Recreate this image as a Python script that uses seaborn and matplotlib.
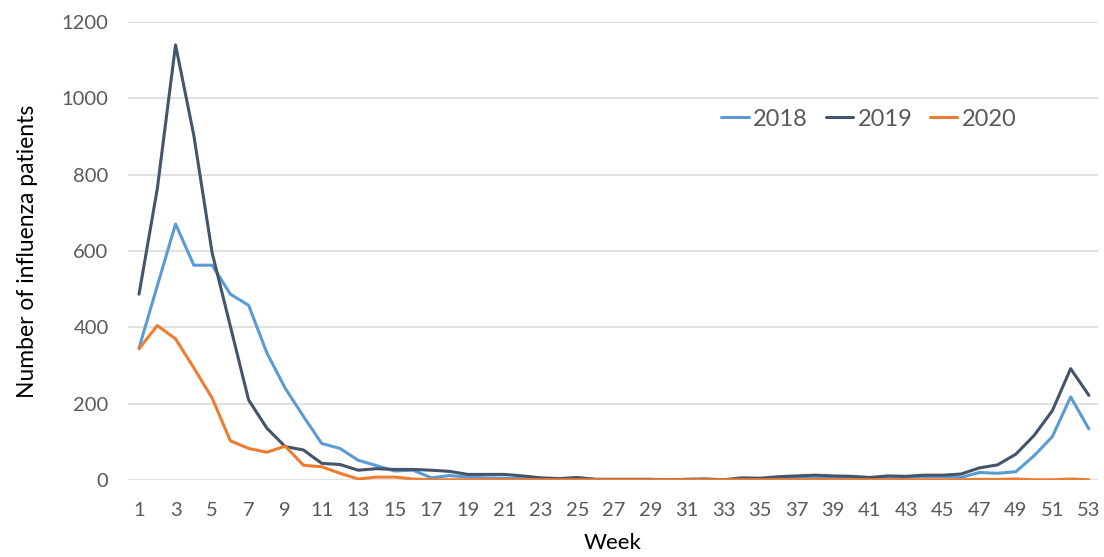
import numpy as np
import pandas as pd
import matplotlib
matplotlib.use("Agg")
import matplotlib.pyplot as plt
import seaborn as sns

# Weekly influenza patient counts
weeks = list(range(1, 54))

cases_2018 = [346, 509, 671, 563, 563, 487, 458, 333, 241, 167,
              96, 83, 52, 38, 24, 26, 6, 12, 8, 6,
              5, 4, 3, 3, 4, 2, 2, 2, 2, 1,
              2, 2, 1, 2, 2, 3, 5, 6, 6, 5,
              5, 6, 7, 9, 9, 7, 20, 18, 22, 64,
              114, 218, 134]

cases_2019 = [487, 763, 1140, 903, 596, 403, 210, 136, 88, 79,
              44, 41, 26, 30, 28, 28, 26, 23, 15, 15,
              15, 11, 6, 4, 7, 2, 2, 2, 2, 1,
              2, 3, 1, 6, 5, 9, 11, 13, 11, 10,
              7, 11, 10, 13, 13, 16, 32, 40, 68, 117,
              182, 292, 222]

cases_2020 = [344, 405, 370, 294, 215, 103, 83, 73, 89, 39,
              35, 18, 3, 8, 8, 3, 1, 1, 1, 1,
              1, 1, 1, 1, 1, 1, 1, 1, 1, 1,
              1, 1, 1, 1, 1, 1, 1, 1, 1, 1,
              1, 1, 1, 1, 1, 1, 2, 2, 3, 1,
              1, 3, 1]

years = ["2018", "2019", "2020"]
colors = {"2018": "#5B9BD5", "2019": "#44546A", "2020": "#ED7D31"}

df = pd.DataFrame({
    "Week": weeks * 3,
    "Patients": cases_2018 + cases_2019 + cases_2020,
    "Year": [y for y in years for _ in weeks],
})

sns.set_theme(style="white")
plt.rcParams['font.family'] = ['Lato', 'DejaVu Sans']

fig = plt.figure(figsize=(11.04, 5.57), dpi=100)
ax = fig.add_axes([0.116, 0.138, 0.8786, 0.8225])

sns.lineplot(data=df, x="Week", y="Patients", hue="Year", hue_order=years,
             palette=colors, linewidth=2.2, ax=ax)

ax.set_xlim(0.4, 53.5)
ax.set_ylim(0, 1200)
ax.set_xticks(range(1, 54, 2))
ax.set_yticks(range(0, 1201, 200))
ax.yaxis.grid(True, color="#D9D9D9", linewidth=1.1)
ax.set_axisbelow(True)
for s in ax.spines.values():
    s.set_visible(False)
ax.tick_params(axis="both", length=0, labelsize=14.5, labelcolor="#595959")
ax.tick_params(axis="x", pad=16)
ax.tick_params(axis="y", pad=14)

ax.set_xlabel("Week", fontsize=16, color="black", labelpad=10)
ax.set_ylabel("Number of influenza patients", fontsize=16.5, color="black", labelpad=17)

leg = ax.legend(loc="center", bbox_to_anchor=(0.764, 0.788), ncol=3, frameon=False,
                fontsize=17, handlelength=1.15, handletextpad=0.2, columnspacing=0.75)
for t in leg.get_texts():
    t.set_color("#595959")

fig.savefig("out.png", dpi=100)
